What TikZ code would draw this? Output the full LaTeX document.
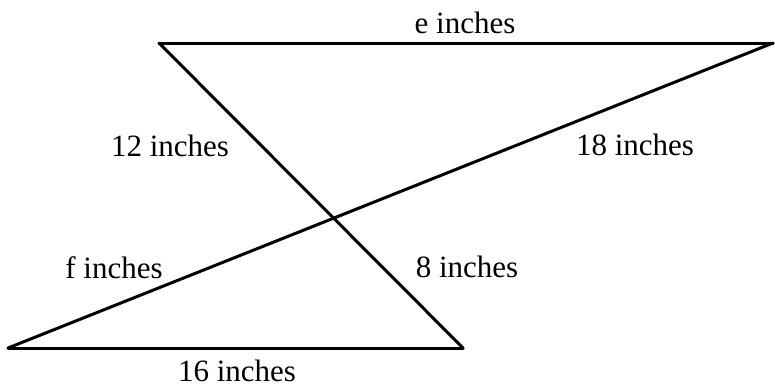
\documentclass[tikz,border=0pt]{standalone}
\usepackage{fontspec}
\setmainfont{Liberation Serif}
\usepackage{tikz}
\usetikzlibrary{positioning,calc}
\tikzset{
  side/.style ={draw=black, line width=3pt, line cap=round, line join=miter},
  lbl/.style  ={font=\fontsize{31}{36}\selectfont, text=black, inner sep=0pt, anchor=base},
}

\begin{document}
\begin{tikzpicture}[x=1pt,y=-1pt]
  \useasboundingbox (0,0) rectangle (775,388);

  \coordinate (tl) at (159,43);
  \coordinate (tr) at (773,43);
  \coordinate (bl) at (8,348);
  \coordinate (br) at (463,348);

  \draw[side] (tl) -- (tr);
  \draw[side] (tl) -- (br);
  \draw[side] (bl) -- (tr);
  \draw[side] (bl) -- (br);

  % labels, placed on their baselines
  \node[lbl] (le)  at (465,33)  {e inches};
  \node[lbl] (l12) at (170,156) {12 inches};
  \node[lbl] (l18) at (635,155) {18 inches};
  \node[lbl] (lf)  at (114,278) {f inches};
  \node[lbl] (l8)  at (467,277) {8 inches};
  \node[lbl] (l16) at (237,381) {16 inches};
\end{tikzpicture}
\end{document}
